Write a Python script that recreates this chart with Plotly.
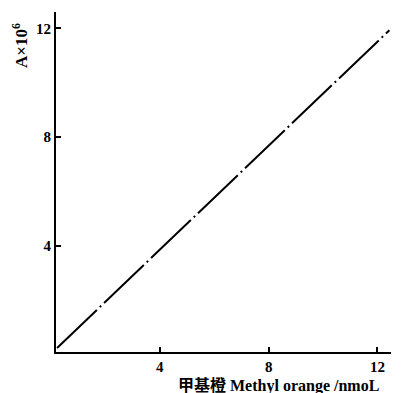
import plotly.graph_objects as go

# data
conc = [0.22, 12.44]          # Methyl orange / nmol
absorb = [0.26, 11.93]        # A x 10^6
x_ticks = [4, 8, 12]
y_ticks = [4, 8, 12]

FONT = "Liberation Serif, DejaVu Serif, Noto Sans CJK SC, serif"

W, H = 401, 385
L, R, T, B = 48, 18, 4, 41

fig = go.Figure()
fig.add_trace(go.Scatter(
    x=conc, y=absorb, mode="lines",
    line=dict(color="black", width=2, dash="55px,4px,2px,4px"),
    showlegend=False, hoverinfo="skip"))

fig.update_layout(
    width=W, height=H,
    margin=dict(l=L, r=R, t=T, b=B),
    paper_bgcolor="white", plot_bgcolor="white",
    font=dict(family=FONT, size=15, color="black"),
    xaxis=dict(range=[0.18, 12.5], tickvals=x_ticks, ticktext=[f"<b>{v}</b>" for v in x_ticks],
               ticks="inside", ticklen=5, tickwidth=1.5, tickcolor="black",
               showline=True, linecolor="black", linewidth=2, showgrid=False, zeroline=False,
               tickfont=dict(family=FONT, size=15), automargin=False),
    yaxis=dict(range=[0.11, 12.6], tickvals=y_ticks, ticktext=[f"<b>{v}</b>" for v in y_ticks],
               ticks="inside", ticklen=5, tickwidth=1.5, tickcolor="black",
               showline=True, linecolor="black", linewidth=2, showgrid=False, zeroline=False,
               tickfont=dict(family=FONT, size=15), automargin=False),
)

pw, ph = W - L - R, H - T - B
fig.add_annotation(text="<b>甲基橙 Methyl orange /nmoL</b>", xref="paper", yref="paper",
                   x=(270 - L) / pw, y=(H - B - 377) / ph, xanchor="center", yanchor="middle",
                   showarrow=False, font=dict(family=FONT, size=16))
fig.add_annotation(text="<b>A×10<sup>6</sup></b>", xref="paper", yref="paper",
                   x=(12 - L) / pw, y=1 - (38 - T) / ph, xanchor="center", yanchor="middle",
                   textangle=-90, showarrow=False, font=dict(family=FONT, size=17))

fig.write_html("out.html")
